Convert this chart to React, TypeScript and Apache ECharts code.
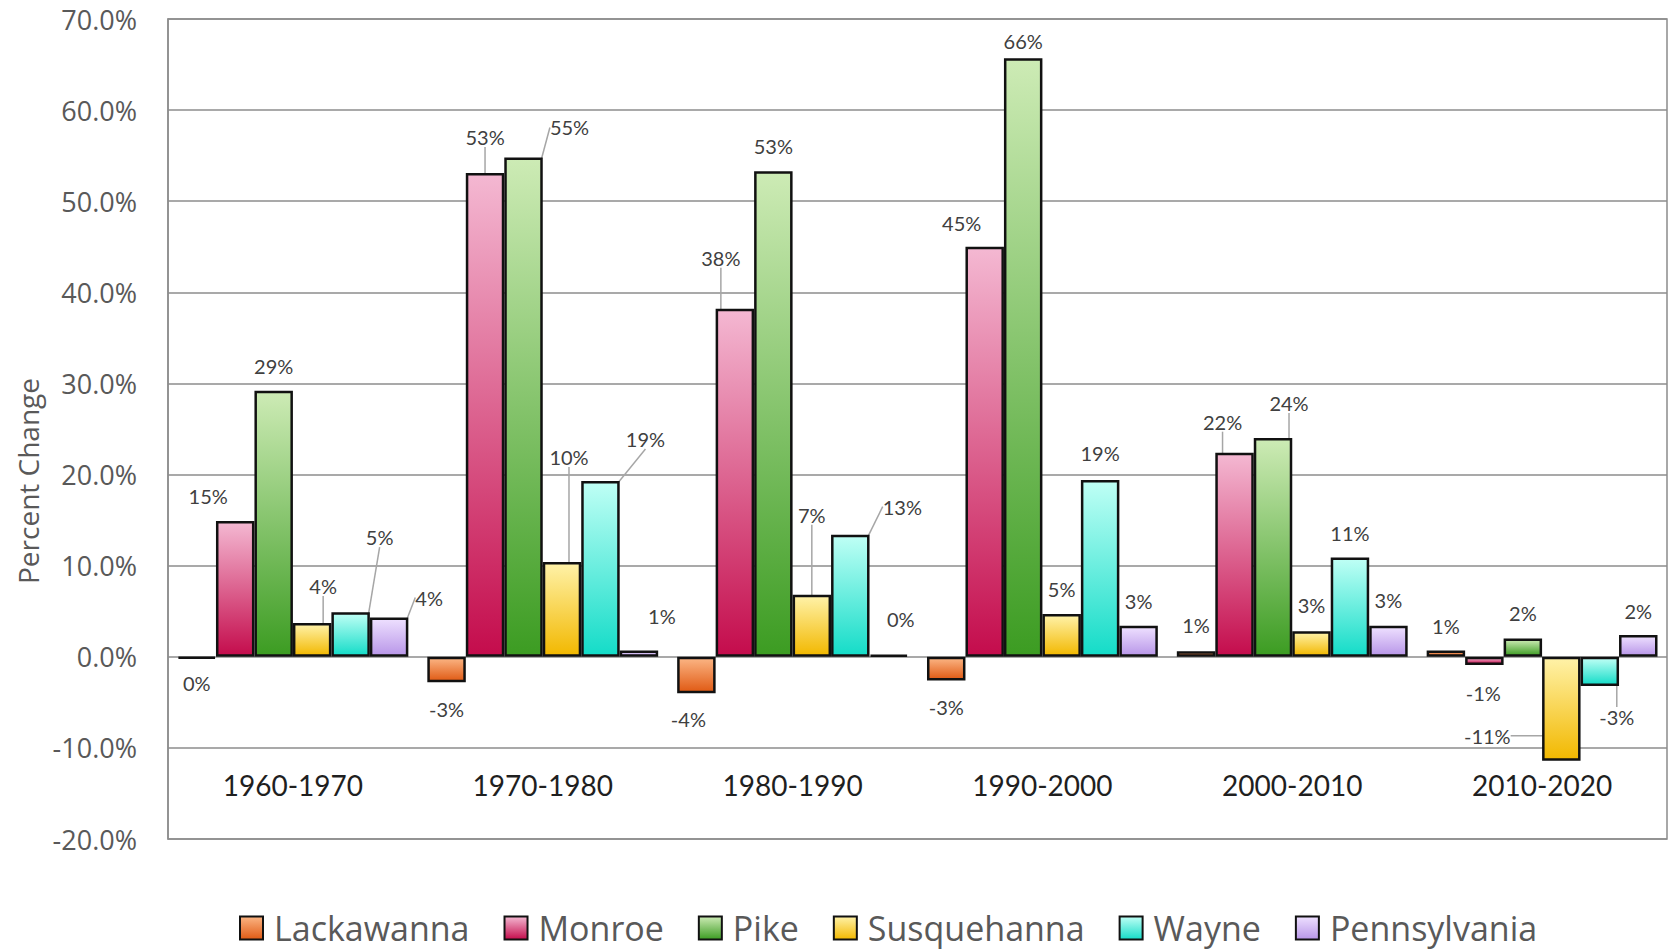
import React, { useEffect, useRef } from 'react';
import * as echarts from 'echarts';

const categories = ['1960-1970', '1970-1980', '1980-1990', '1990-2000', '2000-2010', '2010-2020'];
const seriesNames = ['Lackawanna', 'Monroe', 'Pike', 'Susquehanna', 'Wayne', 'Pennsylvania'];

const lackawanna = [-0.2, -2.8, -4.0, -2.6, 0.6, 0.7];
const monroe = [14.9, 53.1, 38.2, 45.0, 22.4, -0.9];
const pike = [29.2, 54.8, 53.3, 65.7, 24.0, 2.0];
const susquehanna = [3.7, 10.4, 6.8, 4.7, 2.8, -11.4];
const wayne = [4.9, 19.3, 13.4, 19.4, 10.9, -3.2];
const pennsylvania = [4.3, 0.7, 0.2, 3.4, 3.4, 2.4];

const yMin = -20;
const yMax = 70;
const yInterval = 10;
const yTitle = 'Percent Change';

// label nudges [dx, dy, leaderLine]
const labelNudges: number[][][] = [
  [[0, 0, 0], [0, 3, 0], [-8, 2, 0], [0, 3, 0], [0, -2, 0], [0, 0, 0]],
  [[-27, -1, 0], [0, -12, 1], [-14, -27, 1], [-23, 0, 0], [-12, -7, 1], [-1, 4, 0]],
  [[0, -1, 0], [46, -6, 1], [0, -1, 0], [0, 7, 0], [16, -11, 1], [0, -2, 0]],
  [[11, -13, 1], [7, -81, 1], [0, -56, 1], [0, -1, 0], [0, -2, 0], [-74, -49, 1]],
  [[29, -51, 1], [45, -18, 1], [52, -4, 1], [0, -3, 0], [0, 0, 0], [17, 7, 1]],
  [[40, 4, 1], [23, -10, 0], [12, -12, 0], [0, -1, 0], [0, -2, 0], [0, 0, 0]],
];

const gradients: string[][] = [
  ['#FBB584', '#E05A14'],
  ['#F4B8D2', '#C40C4C'],
  ['#CDEBB5', '#3C9C22'],
  ['#FFF2A8', '#F2B800'],
  ['#BFFFF5', '#14DCC8'],
  ['#EEE0FF', '#B896E8'],
];

const allValues = [lackawanna, monroe, pike, susquehanna, wayne, pennsylvania];

export default function App() {
  const ref = useRef<HTMLDivElement>(null);
  useEffect(() => {
    if (!ref.current) return;
    const chart = echarts.init(ref.current, null, { renderer: 'svg' });
    const series = allValues.map((vals, si) => ({
      name: seriesNames[si],
      type: 'bar',
      barGap: '0%',
      barCategoryGap: '7.6%',
      itemStyle: {
        color: new echarts.graphic.LinearGradient(0, 0, 0, 1, [
          { offset: 0, color: gradients[si][0] },
          { offset: 1, color: gradients[si][1] },
        ]),
        borderColor: '#111111',
        borderWidth: 2.5,
      },
      label: {
        show: true,
        distance: 14,
        fontFamily: 'Lato',
        fontSize: 20,
        color: '#404040',
        formatter: (p: any) => `${Math.round(p.value)}%`,
      },
      labelLine: {
        show: true,
        lineStyle: { color: '#a6a6a6', width: 1.5 },
      },
      labelLayout: (params: any) => {
        const n = labelNudges[si][params.dataIndex];
        return { dx: n[0], dy: n[1] };
      },
      data: vals.map((v, i) => ({
        value: v,
        label: { position: v < 0 ? 'bottom' : 'top' },
        labelLine: { show: labelNudges[si][i][2] === 1 },
      })),
    }));
    chart.setOption({
      animation: false,
      textStyle: { fontFamily: 'Open Sans' },
      grid: {
        left: 168,
        right: 8,
        top: 19,
        bottom: 111,
        show: true,
        borderColor: '#8c8c8c',
        borderWidth: 1.5,
      },
      graphic: [
        {
          type: 'text',
          x: 28,
          y: 481,
          rotation: Math.PI / 2,
          style: {
            text: yTitle,
            fontFamily: 'Open Sans',
            fontSize: 28,
            fill: '#595959',
            align: 'center',
            verticalAlign: 'middle',
          },
        },
      ],
      legend: {
        left: 239,
        top: 911,
        itemWidth: 23,
        itemHeight: 23,
        itemGap: 34,
        padding: 0,
        icon: 'rect',
        textStyle: { fontFamily: 'Open Sans', fontSize: 34, color: '#595959', padding: [0, 0, 0, 6] },
        data: seriesNames,
      },
      xAxis: {
        type: 'category',
        data: categories,
        axisLine: { show: false, onZero: false },
        axisTick: { show: false },
        axisLabel: {
          margin: -68,
          fontFamily: 'Lato',
          fontSize: 28,
          color: '#1f1f1f',
        },
      },
      yAxis: {
        type: 'value',
        min: yMin,
        max: yMax,
        interval: yInterval,
        axisLine: { show: true, lineStyle: { color: '#8c8c8c', width: 1.5 } },
        axisTick: { show: false },
        splitLine: { lineStyle: { color: '#8c8c8c', width: 1.5 } },
        axisLabel: {
          margin: 31,
          fontFamily: 'Open Sans',
          fontSize: 27,
          color: '#595959',
          formatter: (v: number) => `${v.toFixed(1)}%`,
        },
      },
      series,
    });
    return () => chart.dispose();
  }, []);
  return (
    <div
      ref={ref}
      style={{ position: 'fixed', left: 0, top: 0, width: 1675, height: 950, background: '#ffffff' }}
    />
  );
}
